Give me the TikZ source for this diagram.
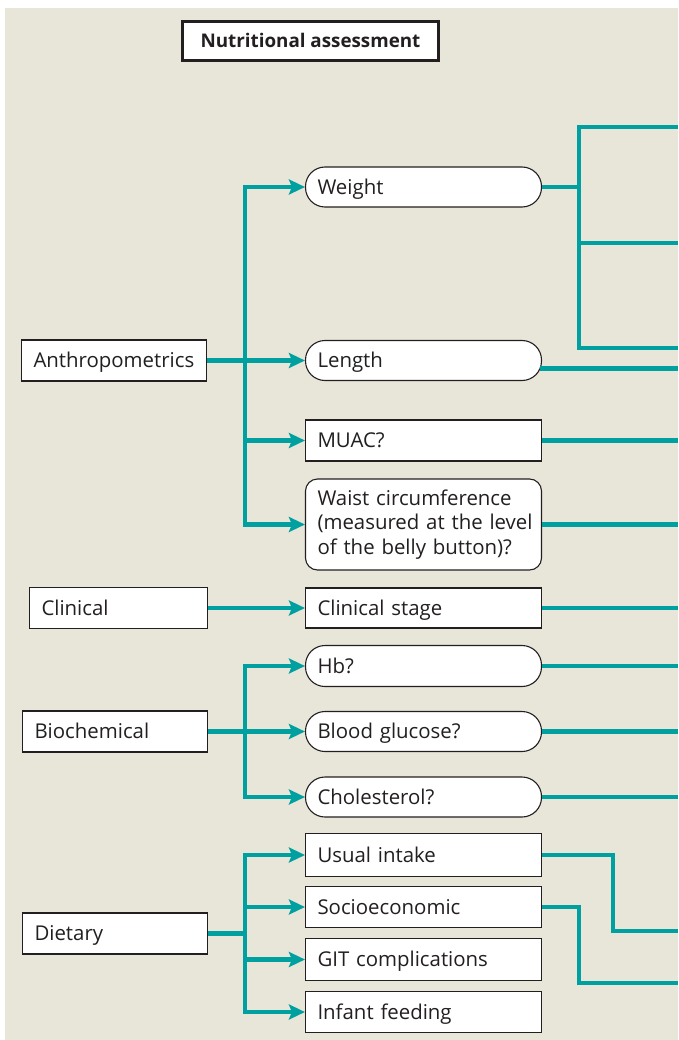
\documentclass[tikz,border=0pt]{standalone}
\usepackage{fontspec}
\setmainfont{Open Sans}
\usetikzlibrary{arrows.meta}
\definecolor{bgc}{RGB}{232,229,217}
\definecolor{tealc}{RGB}{0,159,160}
\definecolor{ink}{RGB}{35,31,32}
\begin{document}
\begin{tikzpicture}[x=1pt,y=-1pt,
  box/.style={draw=ink, line width=1.1pt, fill=white, text=ink,
    font=\fontsize{20.4}{24.5}\selectfont, inner xsep=12pt, inner ysep=0pt,
    align=left, anchor=center},
  one/.style={text height=14.6pt, text depth=0pt},
  lbox/.style={box, one, text width=161pt, minimum height=41pt},
  rbox/.style={box, text width=212pt, minimum height=#1},
  sbox/.style={rbox=#1, one},
  pill/.style={sbox=#1, rounded corners=19.5pt},
  tl/.style={draw=tealc, line width=4.6pt},
  ta/.style={tl, -{Stealth[length=16pt,width=15pt,inset=3pt]}}
]
\useasboundingbox (0,0) rectangle (678,1040);
\fill[bgc] (5,8) rectangle (678,1040);
\coordinate (R) at (678,0);

% title
\node[draw=ink, line width=3.4pt, fill=white, text=ink, minimum width=255.6pt,
  minimum height=38.6pt, inner sep=0pt, text height=13.5pt, text depth=0pt,
  font=\bfseries\fontsize{18.8}{22}\selectfont]
  (title) at (310.5,41) {Nutritional assessment};

% left column
\node[lbox] (anth) at (114,360.5) {Anthropometrics};
\node[lbox, text width=154pt] (clin) at (118.5,608) {Clinical};
\node[lbox] (bio) at (115,731.5) {Biochemical};
\node[lbox] (diet) at (115,933.5) {Dietary};

% right column
\node[pill=40pt] (weight) at (423.5,187) {Weight};
\node[pill=40pt] (length) at (423.5,360.5) {Length};
\node[sbox=41pt] (muac) at (423.5,440.5) {MUAC?};
\node[rbox=91pt, rounded corners=12pt] (waist) at (423.5,524.5)
  {\mbox{Waist circumference}\\\mbox{(measured at the level}\\\mbox{of the belly button)?}};
\node[sbox=40pt] (cstage) at (423.5,608) {Clinical stage};
\node[pill=41pt] (hb) at (423.5,666) {Hb?};
\node[pill=40pt] (gluc) at (423.5,731.5) {Blood glucose?};
\node[pill=40pt] (chol) at (423.5,797) {Cholesterol?};
\node[sbox=43pt] (usual) at (423.5,855) {Usual intake};
\node[sbox=41pt] (socio) at (423.5,907) {Socioeconomic};
\node[sbox=42pt] (git) at (423.5,959.5) {GIT complications};
\node[sbox=41pt] (infant) at (423.5,1012) {Infant feeding};

% anthropometrics branches
\coordinate (ja) at (245,360.5);
\draw[tl] (anth.east) -- (ja);
\draw[ta] (ja) -- (ja |- weight) -- (weight.west);
\draw[ta] (ja) -- (length.west);
\draw[ta] (ja) -- (ja |- muac) -- (muac.west);
\draw[ta] (ja) -- (ja |- waist) -- (waist.west);

% clinical
\draw[ta] (clin.east) -- (cstage.west);

% biochemical branches
\coordinate (jb) at (245,731.5);
\draw[tl] (bio.east) -- (jb);
\draw[ta] (jb) -- (jb |- hb) -- (hb.west);
\draw[ta] (jb) -- (gluc.west);
\draw[ta] (jb) -- (jb |- chol) -- (chol.west);

% dietary branches
\coordinate (jd) at (245,933.5);
\draw[tl] (diet.east) -- (jd);
\draw[ta] (jd) -- (jd |- usual) -- (usual.west);
\draw[ta] (jd) -- (jd |- socio) -- (socio.west);
\draw[ta] (jd) -- (jd |- git) -- (git.west);
\draw[ta] (jd) -- (jd |- infant) -- (infant.west);

% right side outgoing lines
\coordinate (wk) at (579,187);
\draw[tl] (weight.east) -- (wk);
\coordinate (w1) at (678,127);
\coordinate (w2) at (678,243);
\coordinate (w3) at (678,348);
\draw[tl] (w1) -- (w1 -| wk) -- (w3 -| wk) -- (w3);
\draw[tl] (w2 -| wk) -- (w2);
\coordinate (ls) at ([xshift=-1.7pt,yshift=-8pt]length.east);
\draw[tl] (ls) -- (ls -| R);
\draw[tl] (muac.east) -- (muac.east -| R);
\draw[tl] (waist.east) -- (waist.east -| R);
\draw[tl] (cstage.east) -- (cstage.east -| R);
\draw[tl] (hb.east) -- (hb.east -| R);
\draw[tl] (gluc.east) -- (gluc.east -| R);
\draw[tl] (chol.east) -- (chol.east -| R);
\coordinate (u1) at (613,931);
\coordinate (u2) at (678,931);
\draw[tl] (usual.east) -- (usual.east -| u1) -- (u1) -- (u2);
\coordinate (s1) at (579,983);
\coordinate (s2) at (678,983);
\draw[tl] (socio.east) -- (socio.east -| s1) -- (s1) -- (s2);
\end{tikzpicture}
\end{document}
